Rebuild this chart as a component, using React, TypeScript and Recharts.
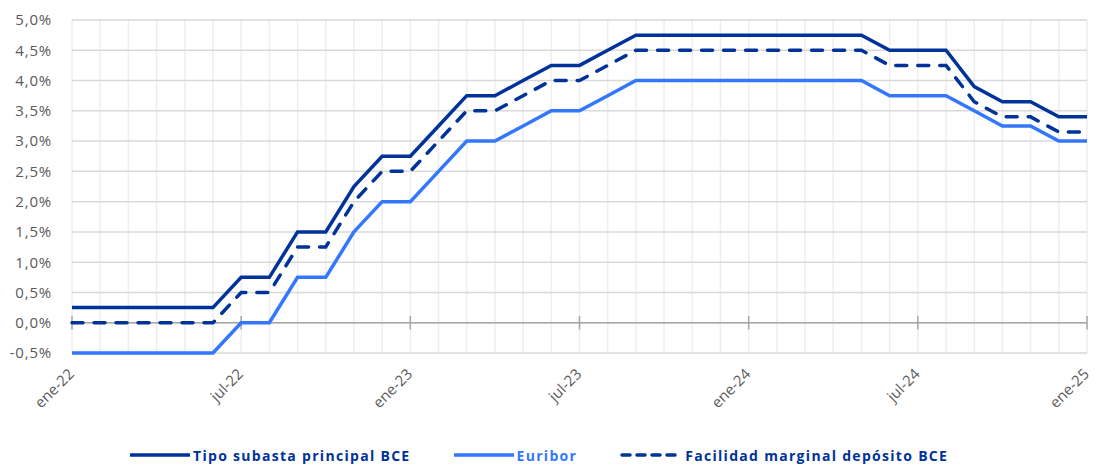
import {
  LineChart,
  Line,
  XAxis,
  YAxis,
  CartesianGrid,
  ReferenceLine,
  Legend,
} from "recharts";

const meses = [
  "ene-22", "feb-22", "mar-22", "abr-22", "may-22", "jun-22",
  "jul-22", "ago-22", "sep-22", "oct-22", "nov-22", "dic-22",
  "ene-23", "feb-23", "mar-23", "abr-23", "may-23", "jun-23",
  "jul-23", "ago-23", "sep-23", "oct-23", "nov-23", "dic-23",
  "ene-24", "feb-24", "mar-24", "abr-24", "may-24", "jun-24",
  "jul-24", "ago-24", "sep-24", "oct-24", "nov-24", "dic-24",
  "ene-25",
];

const tipoSubasta = [
  0.25, 0.25, 0.25, 0.25, 0.25, 0.25,
  0.75, 0.75, 1.5, 1.5, 2.25, 2.75,
  2.75, 3.25, 3.75, 3.75, 4.0, 4.25,
  4.25, 4.5, 4.75, 4.75, 4.75, 4.75,
  4.75, 4.75, 4.75, 4.75, 4.75, 4.5,
  4.5, 4.5, 3.9, 3.65, 3.65, 3.4,
  3.4,
];

const euribor = [
  -0.5, -0.5, -0.5, -0.5, -0.5, -0.5,
  0.0, 0.0, 0.75, 0.75, 1.5, 2.0,
  2.0, 2.5, 3.0, 3.0, 3.25, 3.5,
  3.5, 3.75, 4.0, 4.0, 4.0, 4.0,
  4.0, 4.0, 4.0, 4.0, 4.0, 3.75,
  3.75, 3.75, 3.5, 3.25, 3.25, 3.0,
  3.0,
];

const facilidadDeposito = [
  0.0, 0.0, 0.0, 0.0, 0.0, 0.0,
  0.5, 0.5, 1.25, 1.25, 2.0, 2.5,
  2.5, 3.0, 3.5, 3.5, 3.75, 4.0,
  4.0, 4.25, 4.5, 4.5, 4.5, 4.5,
  4.5, 4.5, 4.5, 4.5, 4.5, 4.25,
  4.25, 4.25, 3.65, 3.4, 3.4, 3.15,
  3.15,
];

const ticksY = [-0.5, 0, 0.5, 1, 1.5, 2, 2.5, 3, 3.5, 4, 4.5, 5];
const mesesEtiqueta = ["ene-22", "jul-22", "ene-23", "jul-23", "ene-24", "jul-24", "ene-25"];

const data = meses.map((mes, i) => ({
  mes,
  tipo: tipoSubasta[i],
  euribor: euribor[i],
  deposito: facilidadDeposito[i],
}));

const AZUL = "#003399";
const AZUL_CLARO = "#3377ff";
const GRIS = "#595959";

const TickMes = (props: any) => {
  const { x, y, payload } = props;
  if (!mesesEtiqueta.includes(payload.value)) return <g />;
  return (
    <g transform={`translate(${x + 3},${y + 22})`}>
      <text
        textAnchor="end"
        transform="rotate(-45)"
        fill={GRIS}
        fontSize={15}
        fontFamily="Open Sans"
      >
        {payload.value}
      </text>
    </g>
  );
};

const Leyenda = () => {
  const texto = {
    fontFamily: "Open Sans",
    fontWeight: 700,
    fontSize: 14,
    letterSpacing: 1.3,
  };
  return (
    <div style={{ display: "flex", alignItems: "center", height: 22, paddingLeft: 122 }}>
      <svg width={60} height={8}>
        <line x1={0} y1={4} x2={60} y2={4} stroke={AZUL} strokeWidth={3.5} />
      </svg>
      <span style={{ ...texto, color: AZUL, marginLeft: 3 }}>Tipo subasta principal BCE</span>
      <svg width={60} height={8} style={{ marginLeft: 43 }}>
        <line x1={0} y1={4} x2={60} y2={4} stroke={AZUL_CLARO} strokeWidth={3.5} />
      </svg>
      <span style={{ ...texto, color: AZUL_CLARO, marginLeft: 3 }}>Euribor</span>
      <svg width={60} height={8} style={{ marginLeft: 43 }}>
        <line
          x1={2}
          y1={4}
          x2={58}
          y2={4}
          stroke={AZUL}
          strokeWidth={3.5}
          strokeDasharray="8 7"
          strokeLinecap="round"
        />
      </svg>
      <span style={{ ...texto, color: AZUL, marginLeft: 5 }}>
        Facilidad marginal depósito BCE
      </span>
    </div>
  );
};

export default function App() {
  return (
    <LineChart
      width={1089}
      height={458}
      data={data}
      margin={{ top: 12, right: 10, left: 0, bottom: 0 }}
    >
      <CartesianGrid horizontal={false} stroke="#eeeeee" strokeWidth={1.5} />
      <CartesianGrid vertical={false} stroke="#d9d9d9" strokeWidth={1.5} />
      <XAxis
        dataKey="mes"
        interval={0}
        height={91}
        axisLine={false}
        tickLine={false}
        tickSize={0}
        tickMargin={0}
        tick={<TickMes />}
      />
      <YAxis
        type="number"
        domain={[-0.5, 5]}
        ticks={ticksY}
        width={64}
        axisLine={false}
        tickLine={false}
        tickSize={0}
        tickMargin={20}
        tick={{ fill: GRIS, fontSize: 15, fontFamily: "Open Sans", letterSpacing: 0.8 }}
        tickFormatter={(v: number) => `${v.toFixed(1).replace(".", ",")}%`}
      />
      <ReferenceLine y={0} stroke="#a6a6a6" strokeWidth={1.5} />
      {mesesEtiqueta.map((m) => (
        <ReferenceLine
          key={m}
          segment={[
            { x: m, y: -0.11 },
            { x: m, y: 0.11 },
          ]}
          stroke="#a6a6a6"
          strokeWidth={1.5}
        />
      ))}
      <Legend verticalAlign="bottom" content={<Leyenda />} />
      <Line
        type="linear"
        dataKey="euribor"
        stroke={AZUL_CLARO}
        strokeWidth={3.5}
        dot={false}
        isAnimationActive={false}
      />
      <Line
        type="linear"
        dataKey="deposito"
        stroke={AZUL}
        strokeWidth={3.5}
        strokeDasharray="11 11"
        strokeLinecap="round"
        dot={false}
        isAnimationActive={false}
      />
      <Line
        type="linear"
        dataKey="tipo"
        stroke={AZUL}
        strokeWidth={3.5}
        dot={false}
        isAnimationActive={false}
      />
    </LineChart>
  );
}
